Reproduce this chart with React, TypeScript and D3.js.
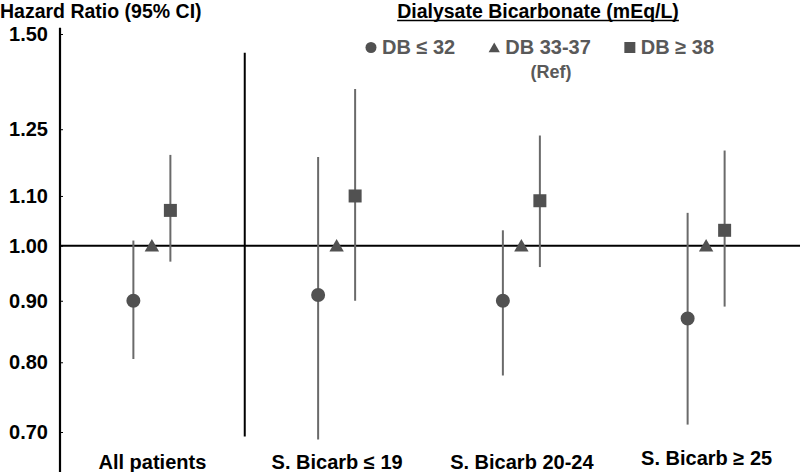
import React, { useEffect, useRef } from 'react';
import * as d3 from 'd3';

// subgroups along the x axis
const groups = ['All patients', 'S. Bicarb ≤ 19', 'S. Bicarb 20-24', 'S. Bicarb ≥ 25'];
// dialysate bicarbonate categories
const seriesNames = ['DB ≤ 32', 'DB 33-37', 'DB ≥ 38'];

// hazard ratios and 95% CI
const lowHR = [0.9, 0.91, 0.9, 0.87];
const lowLo = [0.805, 0.69, 0.78, 0.71];
const lowHi = [1.01, 1.185, 1.03, 1.065];

const refHR = [1, 1, 1, 1];

const highHR = [1.07, 1.1, 1.09, 1.03];
const highLo = [0.97, 0.9, 0.96, 0.89];
const highHi = [1.19, 1.35, 1.235, 1.2];

const yTicks = [0.7, 0.8, 0.9, 1.0, 1.1, 1.25, 1.5];

const W = 800;
const H = 472;
const FONT = '"Liberation Sans", Arial, sans-serif';

function Chart() {
  const ref = useRef<SVGSVGElement | null>(null);

  useEffect(() => {
    const svg = d3.select(ref.current);
    svg.selectAll('*').remove();

    const series = [
      { name: seriesNames[0], shape: d3.symbolCircle, size: 154, legSize: 95, hr: lowHR, lo: lowLo, hi: lowHi },
      { name: seriesNames[1], shape: d3.symbolTriangle, size: 90, legSize: 55, hr: refHR, lo: null, hi: null },
      { name: seriesNames[2], shape: d3.symbolSquare, size: 169, legSize: 121, hr: highHR, lo: highLo, hi: highHi },
    ];

    const y = d3.scaleLog().domain([0.7, 1.5]).range([432, 34]);
    const x = d3.scaleBand().domain(groups).range([60, 799]).padding(0);
    const off = d3.scalePoint().domain(seriesNames).range([-19, 18]);

    const markColor = '#515151';
    const ciColor = '#6a6a6a';

    // y axis
    const axis = svg.append('g').attr('transform', 'translate(60,0)')
      .call(
        d3.axisLeft(y)
          .tickValues(yTicks)
          .tickFormat(d3.format('.2f'))
          .tickSizeInner(-3)
          .tickSizeOuter(0)
          .tickPadding(12)
      );
    axis.select('.domain').remove();
    axis.selectAll('.tick line').attr('stroke', '#000').attr('stroke-width', 1);
    axis.selectAll('.tick text')
      .attr('fill', '#000')
      .style('font', `bold 20px ${FONT}`);

    svg.append('line')
      .attr('x1', 60).attr('x2', 60)
      .attr('y1', y(1.518)).attr('y2', H)
      .attr('stroke', '#000').attr('stroke-width', 2.2);

    // reference line at HR = 1
    svg.append('line')
      .attr('x1', 60).attr('x2', W)
      .attr('y1', y(1)).attr('y2', y(1))
      .attr('stroke', '#000').attr('stroke-width', 2.2);

    // separator after "All patients"
    svg.append('line')
      .attr('x1', x(groups[1])!).attr('x2', x(groups[1])!)
      .attr('y1', y(1.447)).attr('y2', y(0.694))
      .attr('stroke', '#000').attr('stroke-width', 2);

    // CI lines and markers
    series.forEach((s) => {
      const g = svg.append('g');
      if (s.lo && s.hi) {
        g.selectAll('line')
          .data(groups)
          .enter()
          .append('line')
          .attr('x1', (d) => x(d)! + x.bandwidth() / 2 + off(s.name)!)
          .attr('x2', (d) => x(d)! + x.bandwidth() / 2 + off(s.name)!)
          .attr('y1', (_d, i) => y(s.lo![i]))
          .attr('y2', (_d, i) => y(s.hi![i]))
          .attr('stroke', ciColor)
          .attr('stroke-width', 2);
      }
      g.selectAll('path')
        .data(groups)
        .enter()
        .append('path')
        .attr('d', d3.symbol(s.shape, s.size)()!)
        .attr('transform', (d, i) =>
          `translate(${x(d)! + x.bandwidth() / 2 + off(s.name)!},${y(s.hr[i]) + (s.shape === d3.symbolTriangle ? 1.5 : 0)})`)
        .attr('fill', markColor);
    });

    // category labels
    svg.append('g')
      .selectAll('text')
      .data(groups)
      .enter()
      .append('text')
      .attr('x', (d) => x(d)! + x.bandwidth() / 2)
      .attr('y', (_d, i) => (i === 3 ? 465 : 469))
      .attr('text-anchor', 'middle')
      .style('font', `bold 20px ${FONT}`)
      .attr('fill', '#000')
      .text((d) => d);

    // y title
    svg.append('text')
      .attr('x', 0).attr('y', 17.5)
      .style('font', `bold 19.5px ${FONT}`)
      .attr('fill', '#000')
      .text('Hazard Ratio (95% CI)');

    // legend title
    const lt = svg.append('text')
      .attr('x', 538).attr('y', 17.5)
      .attr('text-anchor', 'middle')
      .style('font', `bold 19.5px ${FONT}`)
      .attr('fill', '#000')
      .text('Dialysate Bicarbonate (mEq/L)');
    const bb = (lt.node() as SVGTextElement).getBBox();
    svg.append('line')
      .attr('x1', bb.x).attr('x2', bb.x + bb.width)
      .attr('y1', 20.5).attr('y2', 20.5)
      .attr('stroke', '#000').attr('stroke-width', 1.6);

    // legend
    let lx = 371;
    series.forEach((s, i) => {
      svg.append('path')
        .attr('d', d3.symbol(s.shape, s.legSize)()!)
        .attr('transform', `translate(${lx},${i === 1 ? 49 : 47.5})`)
        .attr('fill', markColor);
      const t = svg.append('text')
        .attr('x', lx + 11).attr('y', 54)
        .style('font', `bold 20px ${FONT}`)
        .attr('fill', '#595959')
        .text(s.name);
      const w = (t.node() as SVGTextElement).getComputedTextLength();
      if (i === 1) {
        svg.append('text')
          .attr('x', lx + 11 + w / 2 + 3).attr('y', 78)
          .attr('text-anchor', 'middle')
          .style('font', `bold 18px ${FONT}`)
          .attr('fill', '#595959')
          .text('(Ref)');
      }
      lx = lx + 11 + w + 39;
    });
  }, []);

  return (
    <svg
      ref={ref}
      width={W}
      height={H}
      style={{ position: 'absolute', left: 0, top: 0, background: '#fff' }}
    />
  );
}

export default function App() {
  return <Chart />;
}
